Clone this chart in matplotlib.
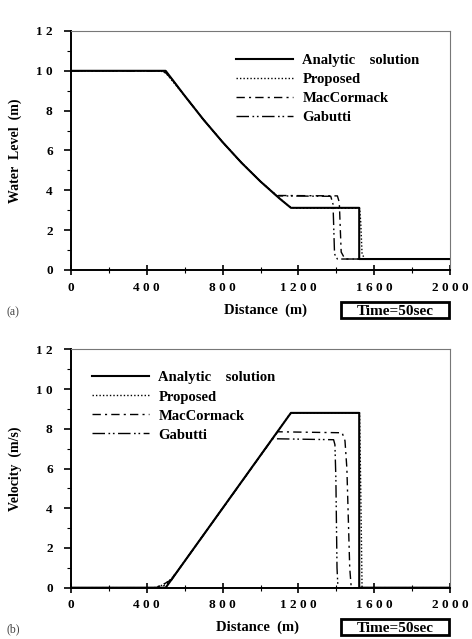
import matplotlib
matplotlib.use('Agg')
import matplotlib.pyplot as plt
from matplotlib.patches import Rectangle
from matplotlib.ticker import MultipleLocator

plt.rcParams['font.family'] = ['Liberation Serif', 'DejaVu Serif']
plt.rcParams['font.weight'] = 'bold'

# (a) water level, Time = 50 sec
wl_ana_x = [0, 500, 600, 700, 800, 900, 1000, 1100, 1160, 1520, 1520, 2000]
wl_ana_y = [10, 10, 8.75, 7.54, 6.42, 5.38, 4.44, 3.59, 3.12, 3.12, 0.55, 0.55]
wl_pro_x = [0, 470, 500, 530, 600, 700, 800, 900, 1000, 1100, 1150, 1180, 1522, 1528, 1535, 1550, 2000]
wl_pro_y = [10, 10, 9.9, 9.55, 8.75, 7.54, 6.42, 5.38, 4.44, 3.6, 3.2, 3.1, 3.1, 2.4, 0.8, 0.55, 0.55]
wl_mac_x = [0, 470, 500, 530, 600, 700, 800, 900, 1000, 1085, 1100, 1405, 1415, 1425, 1445, 2000]
wl_mac_y = [10, 10, 9.9, 9.6, 8.75, 7.54, 6.42, 5.38, 4.44, 3.74, 3.74, 3.72, 3.4, 0.9, 0.55, 0.55]
wl_gab_x = [0, 480, 510, 540, 600, 700, 800, 900, 1000, 1085, 1370, 1382, 1390, 1405, 2000]
wl_gab_y = [10, 10, 9.85, 9.5, 8.75, 7.54, 6.42, 5.38, 4.44, 3.72, 3.7, 3.3, 0.8, 0.55, 0.55]

# (b) velocity, Time = 50 sec
v_ana_x = [0, 500, 1160, 1520, 1520, 2000]
v_ana_y = [0, 0, 8.8, 8.8, 0, 0]
v_pro_x = [0, 440, 480, 520, 560, 1130, 1150, 1170, 1522, 1528, 1535, 2000]
v_pro_y = [0, 0, 0.12, 0.35, 0.8, 8.4, 8.7, 8.8, 8.8, 5.0, 0, 0]
v_mac_x = [0, 440, 480, 520, 560, 1090, 1430, 1445, 1455, 1470, 1478, 2000]
v_mac_y = [0, 0, 0.12, 0.35, 0.8, 7.85, 7.8, 7.4, 6.0, 1.0, 0, 0]
v_gab_x = [0, 450, 490, 525, 560, 1063, 1385, 1392, 1397, 1403, 1408, 2000]
v_gab_y = [0, 0, 0.1, 0.3, 0.8, 7.5, 7.45, 7.2, 5.5, 1.0, 0, 0]

labels = ['Analytic    solution', 'Proposed', 'MacCormack', 'Gabutti']
x_ticks = [0, 400, 800, 1200, 1600, 2000]
y_ticks = [0, 2, 4, 6, 8, 10, 12]

styles = [
    dict(color='black', lw=1.5, ls='-'),
    dict(color='black', lw=1.0, ls=(0, (1, 1.5))),
    dict(color='black', lw=1.0, ls=(0, (6, 3, 1.5, 3))),
    dict(color='black', lw=1.0, ls=(0, (9, 2.5, 1.2, 2, 1.2, 2.5))),
]


def spaced(v):
    return ' '.join(str(v))


fig = plt.figure(figsize=(4.72, 6.39), dpi=100)
ax1 = fig.add_axes([0.150, 0.5775, 0.804, 0.374])
ax2 = fig.add_axes([0.150, 0.0803, 0.804, 0.373])

for ax in (ax1, ax2):
    ax.set_xlim(0, 2000)
    ax.set_ylim(0, 12)
    ax.set_xticks(x_ticks)
    ax.set_xticklabels([spaced(t) for t in x_ticks])
    ax.set_yticks(y_ticks)
    ax.set_yticklabels([spaced(t) for t in y_ticks])
    ax.xaxis.set_minor_locator(MultipleLocator(200))
    ax.yaxis.set_minor_locator(MultipleLocator(1))
    ax.tick_params(axis='x', which='major', direction='inout', length=7, width=1.2, pad=5, labelsize=9.5)
    ax.tick_params(axis='x', which='minor', direction='inout', length=4, width=0.8)
    ax.tick_params(axis='y', which='major', direction='out', length=5, width=1.2, pad=8, labelsize=9.5)
    ax.tick_params(axis='y', which='minor', direction='out', length=3, width=0.8)
    for s in ('left', 'bottom'):
        ax.spines[s].set_linewidth(1.4)
    for s in ('top', 'right'):
        ax.spines[s].set_linewidth(0.8)
        ax.spines[s].set_color('#777777')

series1 = [(wl_ana_x, wl_ana_y), (wl_pro_x, wl_pro_y), (wl_mac_x, wl_mac_y), (wl_gab_x, wl_gab_y)]
series2 = [(v_ana_x, v_ana_y), (v_pro_x, v_pro_y), (v_mac_x, v_mac_y), (v_gab_x, v_gab_y)]
for (x, y), st, lab in zip(series1, styles, labels):
    ax1.plot(x, y, label=lab, **st)
for (x, y), st, lab in zip(series2, styles, labels):
    ax2.plot(x, y, label=lab, **st)

leg_kw = dict(frameon=False, loc='upper left', borderpad=0, borderaxespad=0,
              handlelength=3.9, handletextpad=0.65, labelspacing=0.4,
              prop={'family': 'Liberation Serif', 'weight': 'bold', 'size': 10.5})
ax1.legend(bbox_to_anchor=(0.500, 0.916), bbox_transform=fig.transFigure, **leg_kw)
ax2.legend(bbox_to_anchor=(0.195, 0.419), bbox_transform=fig.transFigure, **leg_kw)

ax1.set_ylabel('Water  Level  (m)', fontsize=10, fontweight='bold', labelpad=10)
ax2.set_ylabel('Velocity  (m/s)', fontsize=10, fontweight='bold', labelpad=10)

# x-labels, panel letters and time boxes
for yc, letter, dx in ((310, '(a)', 265), (627, '(b)', 258)):
    yf = 1 - yc / 639
    fig.text(dx / 472, yf, 'Distance  (m)', ha='center', va='center', fontsize=10.5, fontweight='bold')
    fig.text(13 / 472, yf - 2 / 639, letter, ha='center', va='center', fontsize=8.5,
             fontweight='normal', color='#444444')
    fig.add_artist(Rectangle((341 / 472, yf - 8 / 639), 108 / 472, 16 / 639,
                             transform=fig.transFigure, fill=False, lw=2.0, ec='black'))
    fig.text(395 / 472, yf, 'Time=50sec', ha='center', va='center_baseline', fontsize=11,
             fontweight='bold')

fig.savefig('out.png', dpi=100)
